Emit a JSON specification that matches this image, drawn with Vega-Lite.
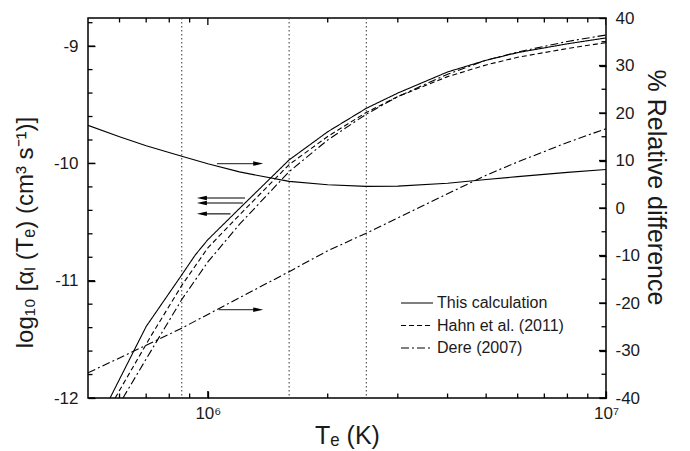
{
  "$schema": "https://vega.github.io/schema/vega-lite/v6.json",
  "width": 518,
  "height": 380,
  "autosize": "none",
  "padding": {"left": 88, "top": 18, "right": 84, "bottom": 53},
  "background": "white",
  "config": {
    "view": {"stroke": "black", "strokeWidth": 1.5},
    "font": "Liberation Sans",
    "axis": {
      "grid": false,
      "domain": false,
      "ticks": true,
      "tickColor": "black",
      "tickOpacity": 1,
      "tickWidth": 1.3,
      "zindex": 0,
      "labelFont": "Liberation Sans",
      "labelFontSize": 17,
      "labelColor": "#1a1a1a",
      "labelFlush": false,
      "labelOverlap": false,
      "titleFont": "Liberation Sans",
      "titleFontSize": 25,
      "titleFontWeight": "normal",
      "titleColor": "#1a1a1a"
    },
    "tick": {"color": "black", "thickness": 1.3, "opacity": 1}
  },
  "datasets": {
    "rate": [
      {"series": "This calculation", "T": 568000, "v": -12.0},
      {"series": "This calculation", "T": 700000, "v": -11.39},
      {"series": "This calculation", "T": 860000, "v": -10.95},
      {"series": "This calculation", "T": 930000, "v": -10.78},
      {"series": "This calculation", "T": 1000000, "v": -10.65},
      {"series": "This calculation", "T": 1200000, "v": -10.385},
      {"series": "This calculation", "T": 1600000, "v": -9.97},
      {"series": "This calculation", "T": 2000000, "v": -9.73},
      {"series": "This calculation", "T": 2500000, "v": -9.53},
      {"series": "This calculation", "T": 3000000, "v": -9.4},
      {"series": "This calculation", "T": 4000000, "v": -9.22},
      {"series": "This calculation", "T": 5000000, "v": -9.12},
      {"series": "This calculation", "T": 6000000, "v": -9.055},
      {"series": "This calculation", "T": 8000000, "v": -8.98},
      {"series": "This calculation", "T": 10000000, "v": -8.93},
      {"series": "Hahn et al. (2011)", "T": 585000, "v": -12.0},
      {"series": "Hahn et al. (2011)", "T": 720000, "v": -11.47},
      {"series": "Hahn et al. (2011)", "T": 860000, "v": -11.04},
      {"series": "Hahn et al. (2011)", "T": 1000000, "v": -10.72},
      {"series": "Hahn et al. (2011)", "T": 1200000, "v": -10.44},
      {"series": "Hahn et al. (2011)", "T": 1600000, "v": -10.01},
      {"series": "Hahn et al. (2011)", "T": 2000000, "v": -9.77},
      {"series": "Hahn et al. (2011)", "T": 2500000, "v": -9.565},
      {"series": "Hahn et al. (2011)", "T": 3000000, "v": -9.43},
      {"series": "Hahn et al. (2011)", "T": 4000000, "v": -9.26},
      {"series": "Hahn et al. (2011)", "T": 5000000, "v": -9.16},
      {"series": "Hahn et al. (2011)", "T": 6000000, "v": -9.095},
      {"series": "Hahn et al. (2011)", "T": 8000000, "v": -9.02},
      {"series": "Hahn et al. (2011)", "T": 10000000, "v": -8.97},
      {"series": "Dere (2007)", "T": 612000, "v": -12.0},
      {"series": "Dere (2007)", "T": 740000, "v": -11.53},
      {"series": "Dere (2007)", "T": 860000, "v": -11.16},
      {"series": "Dere (2007)", "T": 1000000, "v": -10.84},
      {"series": "Dere (2007)", "T": 1200000, "v": -10.52},
      {"series": "Dere (2007)", "T": 1600000, "v": -10.07},
      {"series": "Dere (2007)", "T": 2000000, "v": -9.8},
      {"series": "Dere (2007)", "T": 2500000, "v": -9.58},
      {"series": "Dere (2007)", "T": 3000000, "v": -9.43},
      {"series": "Dere (2007)", "T": 4000000, "v": -9.24},
      {"series": "Dere (2007)", "T": 5000000, "v": -9.12},
      {"series": "Dere (2007)", "T": 6000000, "v": -9.05},
      {"series": "Dere (2007)", "T": 8000000, "v": -8.96},
      {"series": "Dere (2007)", "T": 10000000, "v": -8.905}
    ],
    "relsolid": [
      {"T": 500000, "d": 17.4},
      {"T": 600000, "d": 15.0},
      {"T": 700000, "d": 13.1},
      {"T": 860000, "d": 10.9},
      {"T": 1000000, "d": 9.3},
      {"T": 1200000, "d": 7.6},
      {"T": 1600000, "d": 5.6},
      {"T": 2000000, "d": 4.9},
      {"T": 2500000, "d": 4.55},
      {"T": 3000000, "d": 4.6},
      {"T": 4000000, "d": 5.2},
      {"T": 5000000, "d": 6.0},
      {"T": 6000000, "d": 6.6},
      {"T": 8000000, "d": 7.5},
      {"T": 10000000, "d": 8.1}
    ],
    "reldere": [
      {"T": 500000, "d": -34.7},
      {"T": 700000, "d": -28.9},
      {"T": 860000, "d": -25.3},
      {"T": 1000000, "d": -22.4},
      {"T": 1200000, "d": -18.9},
      {"T": 1600000, "d": -13.4},
      {"T": 2000000, "d": -9.0},
      {"T": 2500000, "d": -5.3},
      {"T": 3000000, "d": -2.1},
      {"T": 4000000, "d": 3.0},
      {"T": 5000000, "d": 6.9},
      {"T": 6000000, "d": 9.7},
      {"T": 8000000, "d": 13.8},
      {"T": 10000000, "d": 16.7}
    ],
    "markers": [
      {"T": 860000},
      {"T": 1600000},
      {"T": 2500000}
    ],
    "leftarrows": [
      {"tail": 1240000, "head": 966000, "v": -10.295},
      {"tail": 1225000, "head": 966000, "v": -10.338},
      {"tail": 1140000, "head": 966000, "v": -10.43}
    ],
    "rightarrows": [
      {"tail": 1054000, "head": 1338000, "d": 9.35},
      {"tail": 1065000, "head": 1338000, "d": -21.4}
    ],
    "xmajor": [{"T": 1000000}, {"T": 10000000}],
    "xminor": [{"T": 600000}, {"T": 700000}, {"T": 800000}, {"T": 900000}, {"T": 2000000}, {"T": 3000000}, {"T": 4000000}, {"T": 5000000}, {"T": 6000000}, {"T": 7000000}, {"T": 8000000}, {"T": 9000000}],
    "ylmajor": [{"v": -12}, {"v": -11}, {"v": -10}, {"v": -9}],
    "ylminor": [{"v": -11.8}, {"v": -11.6}, {"v": -11.4}, {"v": -11.2}, {"v": -10.8}, {"v": -10.6}, {"v": -10.4}, {"v": -10.2}, {"v": -9.8}, {"v": -9.6}, {"v": -9.4}, {"v": -9.2}, {"v": -8.8}],
    "yrmajor": [{"d": -40}, {"d": -30}, {"d": -20}, {"d": -10}, {"d": 0}, {"d": 10}, {"d": 20}, {"d": 30}, {"d": 40}],
    "yrminor": [{"d": -35}, {"d": -25}, {"d": -15}, {"d": -5}, {"d": 5}, {"d": 15}, {"d": 25}, {"d": 35}]
  },
  "layer": [
    {
      "layer": [
        {
          "data": {"name": "markers"},
          "mark": {"type": "rule", "color": "#333", "strokeWidth": 1, "strokeDash": [1.5, 2.5]},
          "encoding": {
            "x": {"field": "T", "type": "quantitative", "scale": {"type": "log", "domain": [500000, 10000000], "nice": false}, "axis": null}
          }
        },
        {
          "data": {"name": "rate"},
          "mark": {"type": "line", "color": "black", "strokeWidth": 1.1, "clip": true},
          "encoding": {
            "x": {
              "field": "T", "type": "quantitative",
              "scale": {"type": "log", "domain": [500000, 10000000], "nice": false},
              "axis": {
                "orient": "bottom",
                "offset": -7,
                "values": [1000000, 10000000],
                "labelExpr": "datum.value == 1000000 ? '10⁶' : '10⁷'",
                "tickSize": 7,
                "labelPadding": 7,
                "title": "Tₑ (K)",
                "titlePadding": 2
              }
            },
            "y": {
              "field": "v", "type": "quantitative",
              "scale": {"domain": [-12, -8.76], "nice": false, "zero": false},
              "axis": {
                "orient": "left",
                "offset": -7,
                "values": [-12, -11, -10, -9],
                "labelExpr": "'' + datum.value",
                "tickSize": 7,
                "labelPadding": 10,
                "title": "log₁₀ [αₗ (Tₑ) (cm³ s⁻¹)]",
                "titleFontSize": 24,
                "titlePadding": 16,
                "titleY": 214
              }
            },
            "strokeDash": {
              "field": "series", "type": "nominal",
              "scale": {"domain": ["This calculation", "Hahn et al. (2011)", "Dere (2007)"], "range": [[1, 0], [5, 3], [8, 3, 2, 3]]},
              "legend": {
                "title": null,
                "orient": "none",
                "legendX": 312,
                "legendY": 275,
                "symbolType": "stroke",
                "symbolSize": 1024,
                "symbolStrokeWidth": 1.1,
                "symbolStrokeColor": "black",
                "clipHeight": 20,
                "labelFont": "Liberation Sans",
                "labelFontSize": 16,
                "labelColor": "#1a1a1a",
                "labelOffset": 3,
                "labelLimit": 300,
                "rowPadding": 2.5
              }
            }
          }
        },
        {
          "data": {"name": "leftarrows"},
          "mark": {"type": "rule", "color": "black", "strokeWidth": 1.1},
          "encoding": {
            "x": {"field": "tail", "type": "quantitative", "scale": {"type": "log", "domain": [500000, 10000000], "nice": false}, "axis": null},
            "x2": {"field": "head"},
            "y": {"field": "v", "type": "quantitative", "axis": null}
          }
        },
        {
          "data": {"name": "leftarrows"},
          "mark": {"type": "point", "shape": "M-1,0L1,-0.45L1,0.45Z", "filled": true, "color": "black", "size": 100, "opacity": 1},
          "encoding": {
            "x": {"field": "head", "type": "quantitative", "scale": {"type": "log", "domain": [500000, 10000000], "nice": false}, "axis": null},
            "y": {"field": "v", "type": "quantitative", "axis": null}
          }
        },
        {
          "data": {"name": "xmajor"},
          "mark": {"type": "tick", "orient": "vertical", "size": 14, "clip": true},
          "encoding": {
            "x": {"field": "T", "type": "quantitative", "scale": {"type": "log", "domain": [500000, 10000000], "nice": false}, "axis": null},
            "y": {"datum": -12, "type": "quantitative", "axis": null}
          }
        },
        {
          "data": {"name": "xmajor"},
          "mark": {"type": "tick", "orient": "vertical", "size": 14, "clip": true},
          "encoding": {
            "x": {"field": "T", "type": "quantitative", "scale": {"type": "log", "domain": [500000, 10000000], "nice": false}, "axis": null},
            "y": {"datum": -8.76, "type": "quantitative", "axis": null}
          }
        },
        {
          "data": {"name": "xminor"},
          "mark": {"type": "tick", "orient": "vertical", "size": 9, "clip": true},
          "encoding": {
            "x": {"field": "T", "type": "quantitative", "scale": {"type": "log", "domain": [500000, 10000000], "nice": false}, "axis": null},
            "y": {"datum": -12, "type": "quantitative", "axis": null}
          }
        },
        {
          "data": {"name": "xminor"},
          "mark": {"type": "tick", "orient": "vertical", "size": 9, "clip": true},
          "encoding": {
            "x": {"field": "T", "type": "quantitative", "scale": {"type": "log", "domain": [500000, 10000000], "nice": false}, "axis": null},
            "y": {"datum": -8.76, "type": "quantitative", "axis": null}
          }
        },
        {
          "data": {"name": "ylmajor"},
          "mark": {"type": "tick", "orient": "horizontal", "size": 14, "clip": true},
          "encoding": {
            "x": {"datum": 500000, "type": "quantitative", "scale": {"type": "log", "domain": [500000, 10000000], "nice": false}, "axis": null},
            "y": {"field": "v", "type": "quantitative", "axis": null}
          }
        },
        {
          "data": {"name": "ylminor"},
          "mark": {"type": "tick", "orient": "horizontal", "size": 9, "clip": true},
          "encoding": {
            "x": {"datum": 500000, "type": "quantitative", "scale": {"type": "log", "domain": [500000, 10000000], "nice": false}, "axis": null},
            "y": {"field": "v", "type": "quantitative", "axis": null}
          }
        }
      ],
      "resolve": {"axis": {"x": "independent", "y": "independent"}}
    },
    {
      "layer": [
        {
          "data": {"name": "relsolid"},
          "mark": {"type": "line", "color": "black", "strokeWidth": 1.1, "clip": true},
          "encoding": {
            "x": {"field": "T", "type": "quantitative", "scale": {"type": "log", "domain": [500000, 10000000], "nice": false}, "axis": null},
            "y": {
              "field": "d", "type": "quantitative",
              "scale": {"domain": [-40, 40], "nice": false, "zero": false},
              "axis": {
                "orient": "right",
                "offset": -7,
                "values": [-40, -30, -20, -10, 0, 10, 20, 30, 40],
                "labelExpr": "'' + datum.value",
                "tickSize": 7,
                "labelPadding": 9,
                "title": "% Relative difference",
                "titlePadding": 3,
                "titleY": 169
              }
            }
          }
        },
        {
          "data": {"name": "reldere"},
          "mark": {"type": "line", "color": "black", "strokeWidth": 1.1, "strokeDash": [8, 3, 2, 3], "clip": true},
          "encoding": {
            "x": {"field": "T", "type": "quantitative", "scale": {"type": "log", "domain": [500000, 10000000], "nice": false}, "axis": null},
            "y": {"field": "d", "type": "quantitative", "axis": null}
          }
        },
        {
          "data": {"name": "rightarrows"},
          "mark": {"type": "rule", "color": "#444", "strokeWidth": 1.1},
          "encoding": {
            "x": {"field": "tail", "type": "quantitative", "scale": {"type": "log", "domain": [500000, 10000000], "nice": false}, "axis": null},
            "x2": {"field": "head"},
            "y": {"field": "d", "type": "quantitative", "axis": null}
          }
        },
        {
          "data": {"name": "rightarrows"},
          "mark": {"type": "point", "shape": "M1,0L-1,-0.45L-1,0.45Z", "filled": true, "color": "black", "size": 100, "opacity": 1},
          "encoding": {
            "x": {"field": "head", "type": "quantitative", "scale": {"type": "log", "domain": [500000, 10000000], "nice": false}, "axis": null},
            "y": {"field": "d", "type": "quantitative", "axis": null}
          }
        },
        {
          "data": {"name": "yrmajor"},
          "mark": {"type": "tick", "orient": "horizontal", "size": 14, "clip": true},
          "encoding": {
            "x": {"datum": 10000000, "type": "quantitative", "scale": {"type": "log", "domain": [500000, 10000000], "nice": false}, "axis": null},
            "y": {"field": "d", "type": "quantitative", "axis": null}
          }
        },
        {
          "data": {"name": "yrminor"},
          "mark": {"type": "tick", "orient": "horizontal", "size": 9, "clip": true},
          "encoding": {
            "x": {"datum": 10000000, "type": "quantitative", "scale": {"type": "log", "domain": [500000, 10000000], "nice": false}, "axis": null},
            "y": {"field": "d", "type": "quantitative", "axis": null}
          }
        }
      ],
      "resolve": {"axis": {"x": "independent", "y": "independent"}}
    }
  ],
  "resolve": {"scale": {"y": "independent"}, "axis": {"x": "independent", "y": "independent"}}
}
